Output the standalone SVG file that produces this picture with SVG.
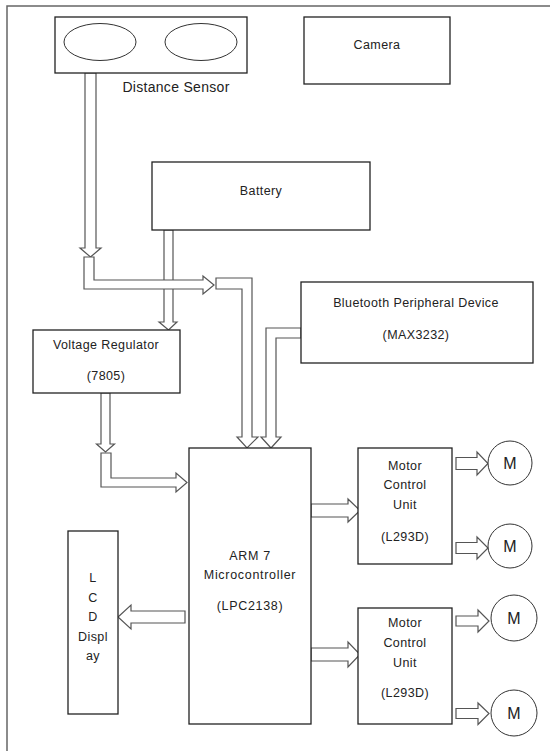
<svg xmlns="http://www.w3.org/2000/svg" width="550" height="751" viewBox="0 0 550 751">
<style>
.box{fill:#fff;stroke:#222;stroke-width:1.3}
.ell{fill:#fff;stroke:#333;stroke-width:1}
.arr{fill:#fff;stroke:#555;stroke-width:1.2;stroke-linejoin:miter}
.t{font-family:"Liberation Sans",Arial,sans-serif;font-size:12.5px;letter-spacing:0.4px;fill:#222;text-anchor:middle}
.big{font-size:14px;letter-spacing:0.3px}
.arm{letter-spacing:0.7px}
.m{font-size:16px;letter-spacing:0}
</style>
<rect width="550" height="751" fill="#fff"/>
<path d="M7,751 V6 H550" fill="none" stroke="#666" stroke-width="1.5"/>

<g id="connectors">
  <polygon class="arr" points="85,73 96,73 96,248 101,248 90.5,257 80,248 85,248"/>
  <polygon class="arr" points="164,230 173,230 173,322 177,322 168.5,330 159,322 164,322"/>
  <polygon class="arr" points="84,257 94,257 94,280 203,280 203,276 214,285 203,294 203,289 84,289"/>
  <polygon class="arr" points="216,278 252,278 252,437 258,437 247,448 237,437 242,437 242,289 216,289"/>
  <polygon class="arr" points="301,328 266,328 266,437 261,437 271,448 281,437 276,437 276,338 301,338"/>
  <polygon class="arr" points="101,393 110,393 110,444 114.5,444 105.5,452 96.5,444 101,444"/>
  <polygon class="arr" points="101,453 111,453 111,478 176,478 176,473 187,482.5 176,492 176,487 101,487"/>
  <polygon class="arr" points="185,611 131,611 131,605 118,617 131,629 131,623 185,623"/>
  <polygon class="arr" points="311,504 348,504 348,499 360,510.5 348,522 348,517 311,517"/>
  <polygon class="arr" points="311,648 348,648 348,642 360,654.5 348,667 348,661 311,661"/>
  <polygon class="arr" points="456,457.5 477,457.5 477,452 488,463.5 477,475 477,469.5 456,469.5"/>
  <polygon class="arr" points="456,542.5 477,542.5 477,537 488,548 477,559 477,553.5 456,553.5"/>
  <polygon class="arr" points="456,616 478,616 478,610 489,621 478,632 478,626 456,626"/>
  <polygon class="arr" points="456,708.5 478,708.5 478,703 489,713.5 478,724.5 478,718.5 456,718.5"/>
</g>

<g id="distance-sensor">
  <rect class="box" x="55" y="17" width="192" height="56"/>
  <ellipse class="ell" cx="100" cy="42" rx="36" ry="18.5"/>
  <ellipse class="ell" cx="201" cy="42" rx="36" ry="18.5"/>
  <text class="t big" x="176" y="92">Distance Sensor</text>
</g>

<g id="camera">
  <rect class="box" x="304" y="17" width="146" height="67"/>
  <text class="t" x="377" y="49">Camera</text>
</g>

<g id="battery">
  <rect class="box" x="152" y="162" width="218" height="68"/>
  <text class="t" x="261" y="195">Battery</text>
</g>

<g id="bluetooth">
  <rect class="box" x="301" y="282" width="232" height="81"/>
  <text class="t" x="416" y="307">Bluetooth Peripheral Device</text>
  <text class="t" x="416" y="339">(MAX3232)</text>
</g>

<g id="voltage-regulator">
  <rect class="box" x="33" y="330" width="147" height="63"/>
  <text class="t" x="106" y="349">Voltage Regulator</text>
  <text class="t" x="106" y="380">(7805)</text>
</g>

<g id="arm7">
  <rect class="box" x="189" y="448" width="122" height="276"/>
  <text class="t arm" x="250" y="560">ARM 7</text>
  <text class="t arm" x="250" y="579">Microcontroller</text>
  <text class="t arm" x="250" y="610">(LPC2138)</text>
</g>

<g id="lcd">
  <rect class="box" x="68" y="531" width="50" height="183"/>
  <text class="t" x="93" y="582">L</text>
  <text class="t" x="93" y="602">C</text>
  <text class="t" x="93" y="621">D</text>
  <text class="t" x="93" y="641">Displ</text>
  <text class="t" x="93" y="660">ay</text>
</g>

<g id="motor-control-1">
  <rect class="box" x="358" y="448" width="94" height="116"/>
  <text class="t" x="405" y="470">Motor</text>
  <text class="t" x="405" y="489">Control</text>
  <text class="t" x="405" y="509">Unit</text>
  <text class="t" x="405" y="541">(L293D)</text>
</g>

<g id="motor-control-2">
  <rect class="box" x="358" y="608" width="94" height="116"/>
  <text class="t" x="405" y="627">Motor</text>
  <text class="t" x="405" y="647">Control</text>
  <text class="t" x="405" y="667">Unit</text>
  <text class="t" x="405" y="697">(L293D)</text>
</g>

<g id="motor-1">
  <circle class="ell" cx="510" cy="463" r="22"/>
  <text class="t m" x="510" y="469">M</text>
</g>
<g id="motor-2">
  <circle class="ell" cx="510" cy="546" r="22"/>
  <text class="t m" x="510" y="552">M</text>
</g>
<g id="motor-3">
  <circle class="ell" cx="514" cy="618" r="23"/>
  <text class="t m" x="514" y="624">M</text>
</g>
<g id="motor-4">
  <circle class="ell" cx="514" cy="713" r="23"/>
  <text class="t m" x="514" y="719">M</text>
</g>
</svg>
